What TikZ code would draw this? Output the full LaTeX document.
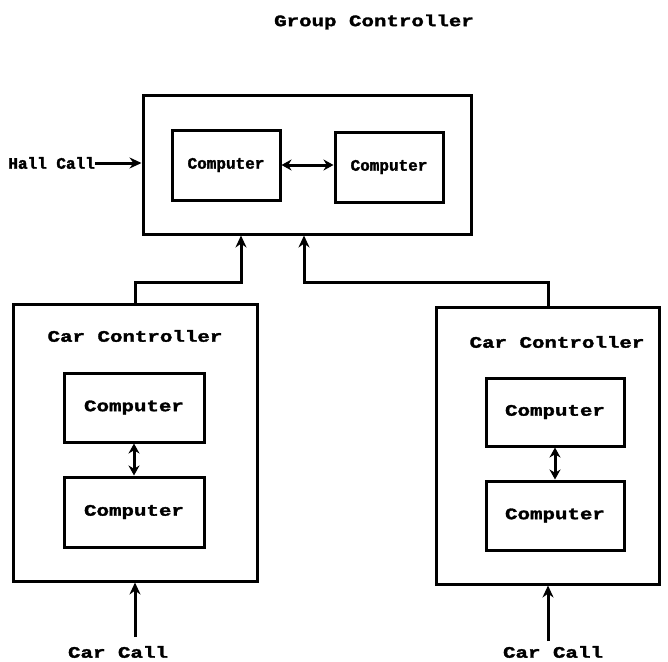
\documentclass[tikz,border=0pt]{standalone}
\usepackage{fontspec}
\newfontfamily\dotsmall{Liberation Mono}[FakeStretch=1.0, FakeBold=2]
\newfontfamily\dotwide{Liberation Mono}[FakeStretch=1.3, FakeBold=2]
\usetikzlibrary{arrows.meta}
\begin{document}
\begin{tikzpicture}[x=1pt,y=1pt,
  box/.style={draw, line width=3pt, rectangle, inner sep=0pt},
  lblS/.style={font=\dotsmall\bfseries\fontsize{16}{16}\selectfont, inner sep=0pt},
  lblW/.style={font=\dotwide\bfseries\fontsize{16}{16}\selectfont, inner sep=0pt},
  arr/.style={line width=3pt, -{Stealth[length=12pt,width=11pt]}},
  darr/.style={line width=3pt, {Stealth[length=10pt,width=11pt]}-{Stealth[length=10pt,width=11pt]}}
]
\useasboundingbox (0,0) rectangle (668,-661);
% Group controller
\node[lblW] (title) at (374,-22) {Group Controller};
\node[box, minimum width=328, minimum height=139] (group) at (307,-164.5) {};
\node[box, lblS, minimum width=108, minimum height=70] (gc1) at (226,-165) {Computer};
\node[box, lblS, minimum width=108, minimum height=70] (gc2) at (389,-167) {Computer};
\draw[darr] (gc1.east) -- (gc1.east -| gc2.west);
\node[lblS, anchor=east] (hall) at (95,-163) {Hall Call};
\draw[arr] (hall.east) -- (hall.east -| group.west);

% Left car controller
\node[box, minimum width=244, minimum height=277] (lcar) at (135,-442.5) {};
\node[lblW] (ltitle) at (135,-336) {Car Controller};
\node[box, lblW, minimum width=140, minimum height=69] (lc1) at (134,-407.5) {Computer};
\node[box, lblW, minimum width=140, minimum height=70] (lc2) at (134,-512) {Computer};
\draw[darr] (lc1.south) -- (lc2.north);
\node[lblW] (lcall) at (118,-652) {Car Call};
\coordinate (lcs) at (135,-637);
\draw[arr] (lcs) -- (lcar.south);

% Right car controller
\node[box, minimum width=223, minimum height=277] (rcar) at (548,-445.5) {};
\node[lblW] (rtitle) at (557,-342) {Car Controller};
\node[box, lblW, minimum width=138, minimum height=68] (rc1) at (555,-412) {Computer};
\node[box, lblW, minimum width=138, minimum height=69] (rc2) at (555,-515.5) {Computer};
\draw[darr] (rc1.south) -- (rc2.north);
\node[lblW] (rcall) at (553,-652) {Car Call};
\coordinate (rcs) at (548,-641);
\draw[arr] (rcs) -- (rcar.south);

% Connections to group controller
\coordinate (lj) at (241,-282);
\coordinate (rj) at (304,-282);
\draw[arr] (lcar.north) |- (lj) -- (lj |- group.south);
\draw[arr] (rcar.north) |- (rj) -- (rj |- group.south);
\end{tikzpicture}
\end{document}
